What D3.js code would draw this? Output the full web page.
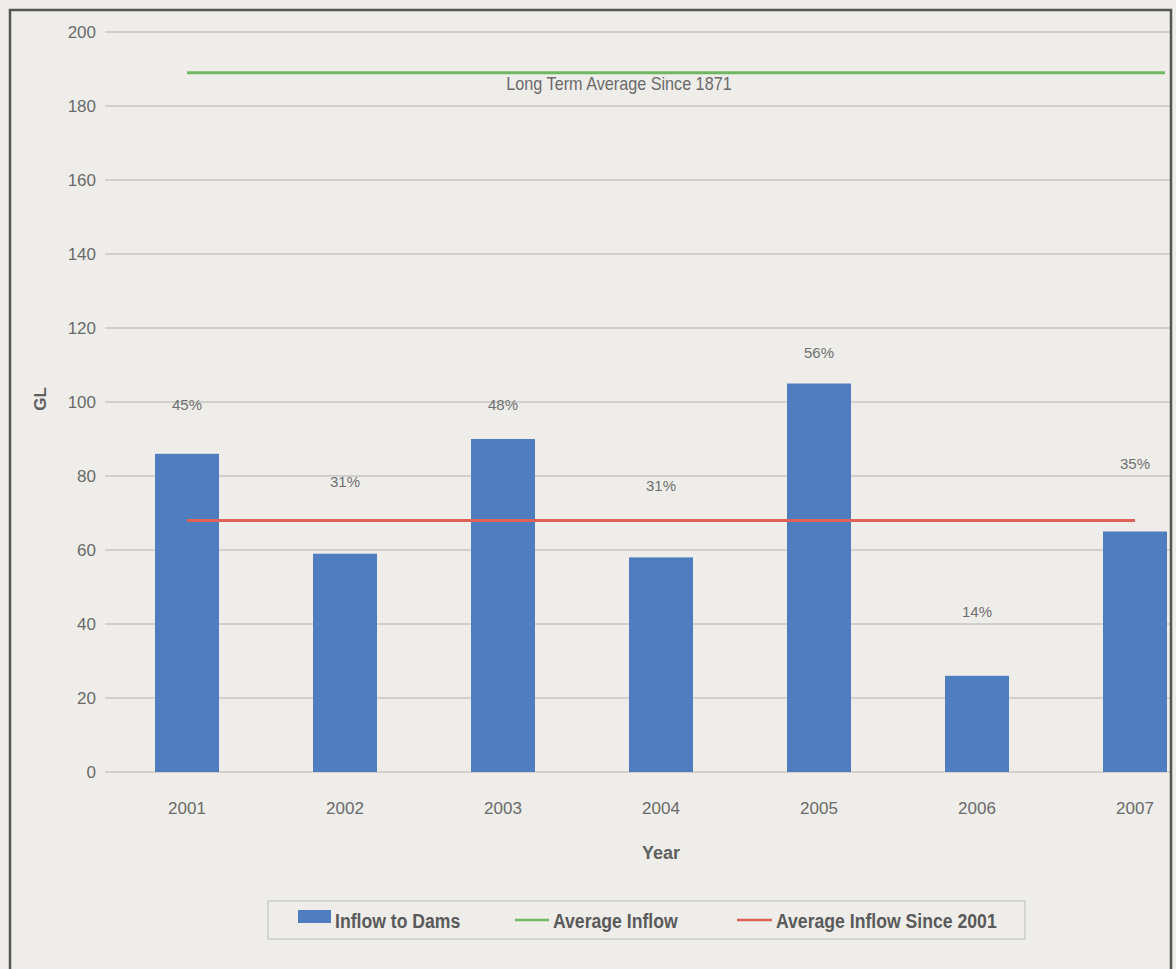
<!DOCTYPE html>
<html><head><meta charset="utf-8">
<script src="https://cdn.jsdelivr.net/npm/d3@7"></script>
<style>
body{margin:0;background:#eeede9;}
svg{display:block;}
text{font-family:"Liberation Sans",Arial,sans-serif;}
</style></head><body>
<script>
const years = ["2001","2002","2003","2004","2005","2006","2007"];
const inflow = [86, 59, 90, 58, 105, 26, 65];
const pctLabels = ["45%","31%","48%","31%","56%","14%","35%"];
const pctLabelAt = [99, 78, 99, 77, 113, 43, 83];
const longTermAvg = 189;
const avgSince2001 = 68;
const yTicks = [0,20,40,60,80,100,120,140,160,180,200];
const legendItems = ["Inflow to Dams","Average Inflow","Average Inflow Since 2001"];

(function(){
const W = 1176, H = 969;
const svg = d3.select("body").append("svg").attr("width", W).attr("height", H);
svg.append("rect").attr("width", W).attr("height", H).attr("fill", "#eeede9");

const plotL = 108, step = 158, plotR = plotL + step*7, plotTop = 32, plotBottom = 772;
const frameR = 1171;
svg.append("clipPath").attr("id","c").append("rect").attr("x",10).attr("y",10).attr("width",frameR-10).attr("height",H);
const g = svg.append("g").attr("clip-path","url(#c)");

const x = d3.scaleBand().domain(years).range([plotL, plotR]).paddingInner(0.595).paddingOuter(0.2975);
const y = d3.scaleLinear().domain([0,200]).range([plotBottom, plotTop]);

// gridlines
g.append("g").selectAll("line").data(yTicks).join("line")
  .attr("x1", plotL-3).attr("x2", plotR).attr("y1", d=>y(d)).attr("y2", d=>y(d))
  .attr("stroke", "#b4b4b2").attr("stroke-width", 1.2);

// y axis labels
const yAx = d3.axisLeft(y).tickValues(yTicks).tickSize(0).tickPadding(12);
const ya = svg.append("g").attr("transform", `translate(${plotL},0)`).call(yAx);
ya.select(".domain").remove();
ya.selectAll("text").attr("font-size", 17).attr("fill", "#6a6a6a")
  .style("font-family", "'Liberation Sans',Arial,sans-serif");

// bars
g.append("g").selectAll("rect").data(inflow).join("rect")
  .attr("x", (d,i)=>x(years[i])).attr("width", x.bandwidth())
  .attr("y", d=>y(d)).attr("height", d=>y(0)-y(d))
  .attr("fill", "#4e7ec0");

// pct labels
g.append("g").selectAll("text").data(pctLabels).join("text")
  .attr("x", (d,i)=>x(years[i]) + x.bandwidth()/2)
  .attr("y", (d,i)=>y(pctLabelAt[i]))
  .attr("text-anchor","middle").attr("dominant-baseline","middle")
  .attr("font-size", 15).attr("fill", "#707070")
  .text(d=>d);

const cx = i => x(years[i]) + x.bandwidth()/2;
// green long term average
g.append("line").attr("x1", cx(0)).attr("x2", cx(6)+30)
  .attr("y1", y(longTermAvg)).attr("y2", y(longTermAvg))
  .attr("stroke", "#6fb862").attr("stroke-width", 3);
g.append("text").attr("transform", `translate(619,${y(longTermAvg)+17}) scale(0.9,1)`)
  .attr("text-anchor","middle").attr("font-size", 18).attr("fill","#6a6a6a")
  .text("Long Term Average Since 1871");
// red average since 2001
g.append("line").attr("x1", cx(0)).attr("x2", cx(6))
  .attr("y1", y(avgSince2001)).attr("y2", y(avgSince2001))
  .attr("stroke", "#dd6258").attr("stroke-width", 3);

// x axis labels
const xa = svg.append("g").attr("transform", `translate(0,${plotBottom})`)
  .call(d3.axisBottom(x).tickSize(0).tickPadding(30));
xa.select(".domain").remove();
xa.selectAll("text").attr("font-size", 17).attr("fill","#6a6a6a");

// axis titles
svg.append("text").attr("transform","translate(46,399) rotate(-90)")
  .attr("text-anchor","middle").attr("font-size",17).attr("font-weight","bold").attr("fill","#606060")
  .text("GL");
svg.append("text").attr("x", 661).attr("y", 859).attr("text-anchor","middle")
  .attr("font-size",18).attr("font-weight","bold").attr("fill","#606060").text("Year");

// legend
const lg = svg.append("g");
lg.append("rect").attr("x",268).attr("y",901).attr("width",757).attr("height",38)
  .attr("fill","none").attr("stroke","#c4c4c2").attr("stroke-width",1.2);
lg.append("rect").attr("x",298).attr("y",910).attr("width",33).attr("height",13).attr("fill","#4e7ec0");
lg.append("line").attr("x1",515).attr("x2",549).attr("y1",920).attr("y2",920).attr("stroke","#6fb862").attr("stroke-width",2.5);
lg.append("line").attr("x1",737).attr("x2",772).attr("y1",920).attr("y2",920).attr("stroke","#dd6258").attr("stroke-width",2.5);
const lx = [335, 553, 776];
lg.selectAll("text.l").data(legendItems).join("text").attr("class","l")
  .attr("transform",(d,i)=>`translate(${lx[i]},928) scale(0.84,1)`)
  .attr("font-size",21).attr("font-weight","bold").attr("fill","#5a5a5a")
  .text(d=>d);

// frame
svg.append("path").attr("d",`M10,${H} V10 H${frameR} V${H}`)
  .attr("fill","none").attr("stroke","#555").attr("stroke-width",2.5);
})();
</script>
</body></html>
